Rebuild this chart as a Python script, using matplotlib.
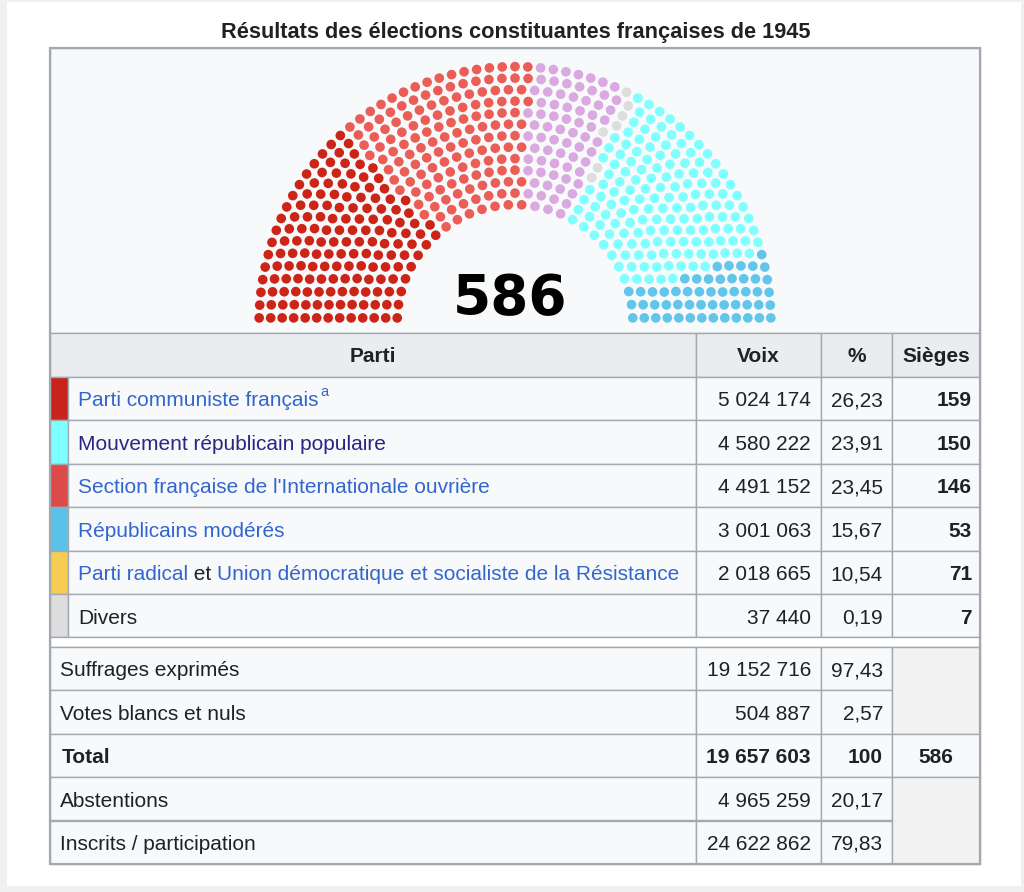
import matplotlib
matplotlib.use('Agg')
import matplotlib.pyplot as plt
from matplotlib.patches import Rectangle, Circle
import numpy as np

plt.rcParams['font.family'] = ['Liberation Sans', 'DejaVu Sans']

# Data
title = 'Résultats des élections constituantes françaises de 1945'
parties = ['Parti communiste français',
           'Mouvement républicain populaire',
           "Section française de l'Internationale ouvrière",
           'Républicains modérés',
           'Parti radical et Union démocratique et socialiste de la Résistance',
           'Divers']
voix = [5024174, 4580222, 4491152, 3001063, 2018665, 37440]
pct = [26.23, 23.91, 23.45, 15.67, 10.54, 0.19]
sieges = [159, 150, 146, 53, 71, 7]
strip_colors = ['#c9241b', '#7fffff', '#dc4a4a', '#5bc2e7', '#f8cb52', '#dddddd']
text_colors = ['#3366cc', '#2b2582', '#3366cc', '#3366cc', '#3366cc', '#202122']

# seat order in the hemicycle, left to right
chart_parties = ['PCF', 'SFIO', 'Radicaux/UDSR', 'Divers', 'MRP', 'Modérés']
chart_seats = [159, 146, 71, 7, 150, 53]
chart_colors = ['#cc2417', '#eb5d57', '#daa9e0', '#dddddd', '#80ffff', '#62c5ea']

summary_labels = ['Suffrages exprimés', 'Votes blancs et nuls', 'Total',
                  'Abstentions', 'Inscrits / participation']
summary_voix = [19152716, 504887, 19657603, 4965259, 24622862]
summary_pct = ['97,43', '2,57', '100', '20,17', '79,83']
total_seats = 586


def fmt_int(n):
    return '{:,}'.format(n).replace(',', ' ')


def fmt_pct(p):
    return '{:.2f}'.format(p).replace('.', ',')


def seat_positions(total):
    # same layout rule as the wikipedia parliament diagram tool
    totals = [3, 15, 33, 61, 95, 138, 189, 247, 313, 388, 469, 559, 657, 762, 876, 997]
    rows = next(i + 1 for i, t in enumerate(totals) if t >= total)
    rad = 0.4 / rows
    pos = []
    for i in range(1, rows):
        R = (3.0 * rows + 4.0 * i - 2.0) / (4.0 * rows)
        J = int(float(total) / totals[rows - 1] * np.pi /
                (2 * np.arcsin(2.0 / (3.0 * rows + 4.0 * i - 2.0))))
        for j in range(J):
            a = j * (np.pi - 2 * np.sin(rad / R)) / (J - 1) + np.sin(rad / R)
            pos.append((a, R * np.cos(a) + 1.75, R * np.sin(a)))
    J = total - len(pos)
    R = (7.0 * rows - 2.0) / (4.0 * rows)
    for j in range(J):
        a = j * (np.pi - 2 * np.sin(rad / R)) / (J - 1) + np.sin(rad / R)
        pos.append((a, R * np.cos(a) + 1.75, R * np.sin(a)))
    pos.sort(reverse=True)
    return pos, rad, rows


W, H = 1024, 892
fig = plt.figure(figsize=(W / 100, H / 100), dpi=100)
fig.patch.set_facecolor('#f0f0f0')
ax = fig.add_axes([0, 0, 1, 1])
ax.set_xlim(0, W)
ax.set_ylim(H, 0)
ax.axis('off')

BORDER = '#a2a9b1'
CELL = '#f8f9fa'
HEAD = '#eaecf0'
TXT = '#202122'
FS = 15


def rect(x0, y0, x1, y1, fc, ec=BORDER, lw=1.0, z=1):
    ax.add_patch(Rectangle((x0, y0), x1 - x0, y1 - y0, facecolor=fc,
                           edgecolor=ec, linewidth=lw, zorder=z))


# white page panel
rect(7, 2, 1021, 886, 'white', ec='none', z=0)

ax.text(516, 38, title, ha='center', va='baseline', fontsize=15.7,
        fontweight='bold', color=TXT)

# column edges
xL, xS, xV, xP, xSg, xR = 50, 68, 696, 821, 892, 980
yT, yChart, yHead = 48, 333, 377
row_h = 43.4

# chart cell
rect(xL, yT, xR, yChart, CELL)

# header
rect(xL, yChart, xV, yHead, HEAD)
rect(xV, yChart, xP, yHead, HEAD)
rect(xP, yChart, xSg, yHead, HEAD)
rect(xSg, yChart, xR, yHead, HEAD)
for lab, xc in [('Parti', (xL + xV) / 2), ('Voix', (xV + xP) / 2),
                ('%', (xP + xSg) / 2), ('Sièges', (xSg + xR) / 2)]:
    ax.text(xc, yChart + 29.3, lab, ha='center', va='baseline', fontsize=FS,
            fontweight='bold', color=TXT)

fig.canvas.draw()
renderer = fig.canvas.get_renderer()
inv = ax.transData.inverted()


def text_right_edge(t):
    bb = t.get_window_extent(renderer)
    return inv.transform((bb.x1, bb.y0))[0]


# party rows
for i, name in enumerate(parties):
    y0 = yHead + i * row_h
    y1 = y0 + row_h
    yb = y0 + 29.5
    rect(xL, y0, xS, y1, strip_colors[i])
    rect(xS, y0, xV, y1, CELL)
    rect(xV, y0, xP, y1, CELL)
    rect(xP, y0, xSg, y1, CELL)
    rect(xSg, y0, xR, y1, CELL)
    if name.startswith('Parti radical et '):
        pieces = [('Parti radical', '#3366cc'), (' et ', TXT),
                  ('Union démocratique et socialiste de la Résistance', '#3366cc')]
        x = xS + 10
        for s, c in pieces:
            t = ax.text(x, yb, s, ha='left', va='baseline', fontsize=FS, color=c, zorder=3)
            x = text_right_edge(t)
    else:
        t = ax.text(xS + 10, yb, name, ha='left', va='baseline', fontsize=FS,
                    color=text_colors[i], zorder=3)
        if i == 0:
            ax.text(text_right_edge(t) + 2, yb - 10, 'a', ha='left', va='baseline',
                    fontsize=10.5, color='#3366cc', zorder=3)
    ax.text(xP - 10, yb, fmt_int(voix[i]), ha='right', va='baseline', fontsize=FS, color=TXT, zorder=3)
    ax.text(xSg - 9, yb, fmt_pct(pct[i]), ha='right', va='baseline', fontsize=FS, color=TXT, zorder=3)
    ax.text(xR - 8, yb, str(sieges[i]), ha='right', va='baseline', fontsize=FS,
            fontweight='bold', color=TXT, zorder=3)

# thin separator row
yP = yHead + len(parties) * row_h
ySum = yP + 9.5
rect(xL, yP, xR, ySum, 'white')

# summary rows
for i, lab in enumerate(summary_labels):
    y0 = ySum + i * row_h
    y1 = y0 + row_h
    yb = y0 + 29.5
    bold = 'bold' if lab == 'Total' else 'normal'
    rect(xL, y0, xV, y1, CELL)
    rect(xV, y0, xP, y1, CELL)
    rect(xP, y0, xSg, y1, CELL)
    ax.text(xL + 10 + (2 if bold == 'bold' else 0), yb, lab, ha='left', va='baseline',
            fontsize=FS, fontweight=bold, color=TXT, zorder=3)
    ax.text(xP - 10, yb, fmt_int(summary_voix[i]), ha='right', va='baseline',
            fontsize=FS, fontweight=bold, color=TXT, zorder=3)
    ax.text(xSg - 9, yb, summary_pct[i], ha='right', va='baseline',
            fontsize=FS, fontweight=bold, color=TXT, zorder=3)

# merged seat cells
rect(xSg, ySum, xR, ySum + 2 * row_h, '#f2f2f2')
rect(xSg, ySum + 2 * row_h, xR, ySum + 3 * row_h, CELL)
ax.text((xSg + xR) / 2, ySum + 2 * row_h + 29.5, str(total_seats), ha='center',
        va='baseline', fontsize=FS, fontweight='bold', color=TXT, zorder=3)
rect(xSg, ySum + 3 * row_h, xR, ySum + 5 * row_h, '#f2f2f2')

# outer table border
rect(xL, yT, xR, ySum + 5 * row_h, 'none', lw=1.6, z=4)

# hemicycle
scale = 149.5            # pixels per unit
cx, cy = 515, 322.5      # pixel position of the diagram centre
ax2 = fig.add_axes([(xL + 1) / W, 1 - (yChart - 1) / H,
                    (xR - xL - 2) / W, (yChart - yT - 2) / H])
ax2.set_xlim(1.75 - (cx - xL - 1) / scale, 1.75 + (xR - 1 - cx) / scale)
ax2.set_ylim(-(yChart - 1 - cy) / scale, (cy - yT - 1) / scale)
ax2.axis('off')
ax2.patch.set_alpha(0)

pos, rad, rows = seat_positions(total_seats)
dot_r = 0.42 / rows
k = 0
for n, col in zip(chart_seats, chart_colors):
    for _ in range(n):
        a, x, y = pos[k]
        ax2.add_patch(Circle((x, y), dot_r, facecolor=col, edgecolor='none'))
        k += 1

ax2.text(1.75 - 5 / scale, 8 / scale, str(total_seats), ha='center', va='baseline',
         fontsize=39.5, fontweight='bold', family='DejaVu Sans', color='black')

fig.savefig('out.png', dpi=100, facecolor=fig.get_facecolor())
